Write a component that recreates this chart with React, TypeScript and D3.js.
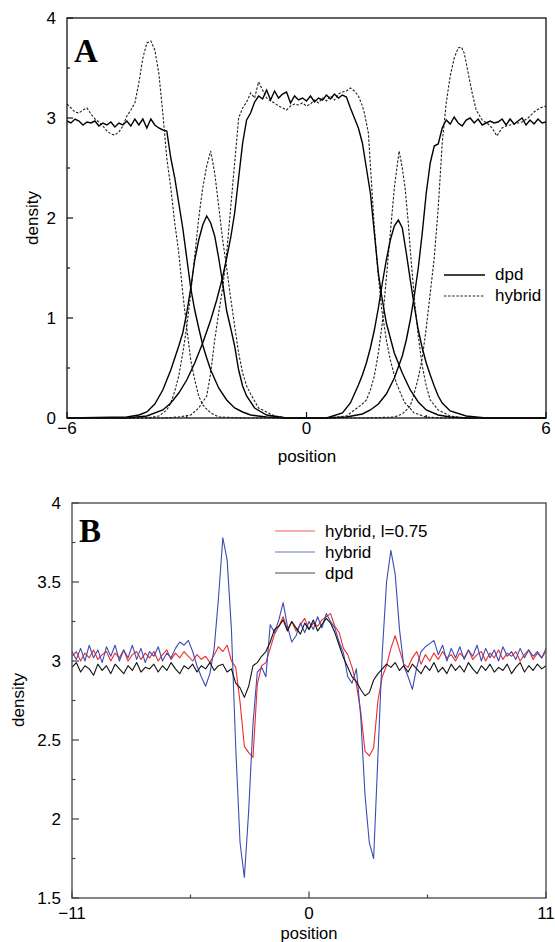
import React from 'react';
import * as d3 from 'd3';

type P = [number, number];

// ---------- Panel A: density profiles (position, density) ----------
const dpdOuterA: P[] = [
  [-6, 2.97], [-5.9, 2.95], [-5.8, 2.99], [-5.7, 2.97], [-5.6, 2.93], [-5.5, 2.96], [-5.4, 2.95], [-5.3, 2.97],
  [-5.2, 2.92], [-5.1, 2.95], [-5.0, 2.93], [-4.9, 2.96], [-4.8, 2.91], [-4.7, 2.95], [-4.6, 2.93], [-4.5, 2.97],
  [-4.4, 2.92], [-4.3, 2.99], [-4.2, 2.93], [-4.1, 2.99], [-4.0, 2.9], [-3.9, 2.99], [-3.8, 2.93], [-3.7, 2.9],
  [-3.6, 2.88], [-3.5, 2.87], [-3.4, 2.6], [-3.3, 2.4], [-3.2, 2.15], [-3.1, 1.9], [-3.0, 1.6], [-2.9, 1.3],
  [-2.8, 1.08], [-2.7, 0.9], [-2.6, 0.73], [-2.5, 0.6], [-2.4, 0.48], [-2.2, 0.3], [-2.0, 0.18], [-1.8, 0.1],
  [-1.6, 0.06], [-1.4, 0.03], [-1.0, 0.01], [-0.5, 0], [0.5, 0], [1.0, 0.01], [1.4, 0.04], [1.6, 0.08],
  [1.8, 0.14], [2.0, 0.24], [2.2, 0.4], [2.4, 0.62], [2.5, 0.78], [2.6, 0.98], [2.7, 1.22], [2.8, 1.5],
  [2.9, 1.85], [3.0, 2.25], [3.1, 2.55], [3.2, 2.72], [3.3, 2.74], [3.4, 2.9], [3.5, 2.98], [3.6, 2.94],
  [3.7, 3.01], [3.8, 2.95], [3.9, 2.92], [4.0, 2.98], [4.1, 3.0], [4.2, 2.95], [4.3, 2.99], [4.4, 2.93],
  [4.5, 2.95], [4.6, 2.97], [4.7, 2.95], [4.8, 2.96], [4.9, 2.99], [5.0, 2.93], [5.1, 2.99], [5.2, 2.94],
  [5.3, 2.97], [5.4, 3.0], [5.5, 2.93], [5.6, 2.98], [5.7, 2.94], [5.8, 2.99], [5.9, 2.95], [6.0, 2.96],
];

const dpdMiddleA: P[] = [
  [-6, 0], [-4.5, 0], [-4.0, 0.02], [-3.6, 0.08], [-3.4, 0.15], [-3.2, 0.25], [-3.0, 0.38], [-2.8, 0.55],
  [-2.6, 0.75], [-2.4, 0.98], [-2.25, 1.18], [-2.1, 1.41], [-2.0, 1.6], [-1.9, 1.8], [-1.8, 2.05], [-1.7, 2.4],
  [-1.6, 2.75], [-1.5, 2.98], [-1.4, 3.05], [-1.3, 3.16], [-1.2, 3.22], [-1.1, 3.19], [-1.0, 3.28], [-0.9, 3.18],
  [-0.8, 3.27], [-0.7, 3.2], [-0.6, 3.24], [-0.5, 3.26], [-0.4, 3.15], [-0.3, 3.22], [-0.2, 3.18], [-0.1, 3.2],
  [0.0, 3.17], [0.1, 3.22], [0.2, 3.16], [0.3, 3.2], [0.4, 3.18], [0.5, 3.23], [0.6, 3.19], [0.7, 3.24],
  [0.8, 3.2], [0.9, 3.23], [1.0, 3.21], [1.1, 3.1], [1.2, 3.0], [1.3, 2.9], [1.4, 2.75], [1.5, 2.5],
  [1.6, 2.25], [1.7, 1.85], [1.8, 1.45], [1.9, 1.18], [2.0, 0.95], [2.2, 0.65], [2.4, 0.45], [2.6, 0.28],
  [2.8, 0.16], [3.0, 0.08], [3.3, 0.03], [3.6, 0.01], [4.0, 0], [6, 0],
];

const dpdPeakA: P[] = [
  [-6, 0], [-4.5, 0.01], [-4.2, 0.03], [-4.0, 0.06], [-3.8, 0.14], [-3.6, 0.28], [-3.4, 0.48], [-3.2, 0.72],
  [-3.1, 0.85], [-3.0, 1.05], [-2.9, 1.3], [-2.8, 1.58], [-2.7, 1.78], [-2.6, 1.93], [-2.5, 2.02], [-2.4, 1.95],
  [-2.3, 1.82], [-2.2, 1.6], [-2.1, 1.35], [-2.0, 1.07], [-1.9, 0.9], [-1.8, 0.72], [-1.7, 0.48], [-1.6, 0.32],
  [-1.5, 0.22], [-1.3, 0.1], [-1.0, 0.03], [-0.5, 0], [0.5, 0], [0.9, 0.05], [1.1, 0.15], [1.3, 0.33],
  [1.4, 0.43], [1.5, 0.55], [1.6, 0.7], [1.7, 0.88], [1.8, 1.1], [1.9, 1.35], [2.0, 1.58], [2.1, 1.78],
  [2.2, 1.92], [2.3, 1.98], [2.4, 1.9], [2.5, 1.65], [2.6, 1.38], [2.7, 1.12], [2.8, 0.88], [2.9, 0.7],
  [3.0, 0.55], [3.1, 0.43], [3.2, 0.32], [3.3, 0.22], [3.4, 0.15], [3.6, 0.07], [4.0, 0.02], [4.5, 0], [6, 0],
];

const hybOuterA: P[] = [
  [-6, 3.14], [-5.9, 3.1], [-5.8, 3.06], [-5.7, 3.05], [-5.6, 3.08], [-5.5, 3.1], [-5.4, 3.04], [-5.3, 2.99],
  [-5.2, 2.96], [-5.1, 2.92], [-5.0, 2.87], [-4.9, 2.84], [-4.8, 2.83], [-4.7, 2.86], [-4.6, 2.92], [-4.5, 3.02],
  [-4.4, 3.08], [-4.3, 3.15], [-4.2, 3.35], [-4.1, 3.6], [-4.0, 3.75], [-3.9, 3.77], [-3.8, 3.68], [-3.7, 3.45],
  [-3.6, 3.05], [-3.5, 2.6], [-3.4, 2.3], [-3.3, 1.95], [-3.2, 1.65], [-3.1, 1.25], [-3.0, 0.9], [-2.9, 0.58],
  [-2.8, 0.38], [-2.7, 0.22], [-2.6, 0.13], [-2.4, 0.05], [-2.2, 0.01], [-1.5, 0], [1.5, 0], [2.2, 0.01],
  [2.4, 0.04], [2.6, 0.12], [2.7, 0.25], [2.8, 0.4], [2.9, 0.6], [3.0, 0.9], [3.1, 1.25], [3.2, 1.6],
  [3.3, 2.1], [3.4, 2.75], [3.5, 3.15], [3.6, 3.42], [3.7, 3.6], [3.8, 3.7], [3.88, 3.71], [3.95, 3.65],
  [4.05, 3.45], [4.15, 3.25], [4.25, 3.08], [4.4, 2.98], [4.55, 2.94], [4.65, 2.9], [4.77, 2.82], [4.9, 2.9],
  [5.0, 2.92], [5.2, 2.94], [5.4, 2.96], [5.55, 3.0], [5.7, 3.06], [5.85, 3.1], [6.0, 3.12],
];

const hybMiddleA: P[] = [
  [-6, 0], [-3.6, 0], [-3.2, 0.01], [-2.9, 0.03], [-2.7, 0.1], [-2.5, 0.22], [-2.4, 0.45], [-2.3, 0.78],
  [-2.2, 1.05], [-2.1, 1.3], [-2.0, 1.65], [-1.9, 2.1], [-1.8, 2.55], [-1.7, 3.0], [-1.6, 3.1], [-1.5, 3.16],
  [-1.4, 3.25], [-1.3, 3.2], [-1.2, 3.36], [-1.1, 3.28], [-1.0, 3.2], [-0.9, 3.17], [-0.8, 3.15], [-0.7, 3.12],
  [-0.6, 3.1], [-0.5, 3.08], [-0.4, 3.12], [-0.3, 3.14], [-0.2, 3.13], [-0.1, 3.15], [0.0, 3.12], [0.1, 3.14],
  [0.2, 3.18], [0.3, 3.15], [0.4, 3.2], [0.5, 3.17], [0.6, 3.22], [0.7, 3.18], [0.8, 3.24], [0.9, 3.26],
  [1.0, 3.27], [1.1, 3.3], [1.2, 3.27], [1.3, 3.22], [1.4, 3.12], [1.45, 3.05], [1.55, 2.85], [1.62, 2.4],
  [1.7, 1.9], [1.78, 1.5], [1.88, 1.1], [2.0, 0.78], [2.1, 0.58], [2.25, 0.35], [2.45, 0.16], [2.7, 0.05],
  [3.0, 0.01], [3.4, 0], [6, 0],
];

const hybPeakA: P[] = [
  [-6, 0], [-4.0, 0], [-3.7, 0.02], [-3.5, 0.08], [-3.4, 0.15], [-3.3, 0.27], [-3.2, 0.42], [-3.1, 0.65],
  [-3.0, 0.91], [-2.9, 1.25], [-2.8, 1.62], [-2.7, 2.0], [-2.6, 2.3], [-2.5, 2.52], [-2.4, 2.67], [-2.3, 2.45],
  [-2.2, 2.12], [-2.1, 1.78], [-2.0, 1.5], [-1.9, 1.2], [-1.8, 0.92], [-1.7, 0.65], [-1.6, 0.45], [-1.5, 0.32],
  [-1.4, 0.24], [-1.2, 0.1], [-1.0, 0.06], [-0.8, 0.02], [-0.5, 0], [0.5, 0], [1.0, 0.02], [1.2, 0.08],
  [1.4, 0.14], [1.5, 0.18], [1.6, 0.28], [1.7, 0.42], [1.8, 0.65], [1.9, 0.95], [2.0, 1.4], [2.1, 1.85],
  [2.2, 2.3], [2.32, 2.67], [2.4, 2.5], [2.47, 2.3], [2.55, 1.95], [2.6, 1.68], [2.7, 1.2], [2.8, 0.82],
  [2.9, 0.52], [3.0, 0.32], [3.1, 0.18], [3.3, 0.08], [3.6, 0.02], [4.0, 0], [6, 0],
];

const xTicksA = [-6, 0, 6];
const xMinorA = [-3, 3];
const yTicksA = [0, 1, 2, 3, 4];
const yMinorA = [0.5, 1.5, 2.5, 3.5];

// ---------- Panel B: positions sampled every 0.2 from -11 to 11 ----------
const positionsB = d3.range(0, 111).map((i) => -11 + i * 0.2);

const hybridL075B = [
  3.03, 3.06, 3.0, 3.05, 3.02, 3.07, 3.01, 3.04, 3.06, 3.0,
  3.05, 3.02, 3.07, 3.0, 3.04, 3.06, 3.01, 3.05, 3.02, 3.06,
  3.0, 3.04, 3.07, 3.01, 3.05, 3.02, 3.06, 3.03, 3.0, 3.04,
  3.01, 3.03, 2.99, 3.04, 3.09, 3.06, 3.1, 3.0, 2.96, 2.74,
  2.46, 2.42, 2.39, 2.85, 2.97, 2.99, 3.08, 3.17, 3.22, 3.28,
  3.2, 3.25, 3.19, 3.23, 3.27, 3.2, 3.24, 3.22, 3.26, 3.28,
  3.3, 3.22, 3.18, 3.08, 3.04, 2.96, 2.85, 2.68, 2.43, 2.4,
  2.45, 2.75, 2.9, 2.97, 3.08, 3.16, 3.07, 2.98, 2.96, 3.02,
  3.06, 2.98, 3.04, 3.0, 3.05, 3.01, 3.06, 3.02, 3.04, 3.0,
  3.05, 3.02, 3.07, 3.01, 3.04, 3.06, 3.0, 3.05, 3.02, 3.07,
  3.01, 3.05, 3.03, 3.06, 3.0, 3.04, 3.07, 3.01, 3.05, 3.02, 3.06,
];

const hybridB = [
  3.06, 3.01, 3.08, 3.0, 3.1, 3.02, 3.07, 2.99, 3.09, 3.03,
  3.1, 3.0, 3.07, 3.02, 3.1, 3.01, 3.08, 2.99, 3.06, 3.03,
  3.09, 3.0, 3.05, 3.02, 3.08, 3.12, 3.1, 3.13, 3.06, 2.97,
  2.9, 2.84, 2.92, 3.08, 3.4, 3.78, 3.64, 3.2, 2.45, 1.85,
  1.63, 2.05, 2.6, 2.93, 2.96, 2.9, 3.23, 3.18, 3.26, 3.37,
  3.22, 3.12, 3.16, 3.24, 3.18, 3.25, 3.2, 3.28, 3.21, 3.3,
  3.25, 3.21, 3.12, 3.05, 2.9, 2.86, 2.95, 2.65, 2.15, 1.85,
  1.75, 2.4, 3.05, 3.5, 3.7, 3.55, 3.2, 2.97, 2.9, 2.82,
  2.96, 3.06, 3.09, 3.11, 3.13, 3.04, 3.1, 3.0, 3.08, 3.02,
  3.09, 3.01, 3.07, 3.03, 3.1, 3.0, 3.08, 3.02, 3.07, 3.0,
  3.09, 3.03, 3.06, 3.01, 3.08, 3.02, 3.07, 3.03, 3.06, 3.02, 3.08,
];

const dpdB = [
  2.96, 2.99, 2.93, 2.97, 2.95, 2.91, 2.98, 2.94, 2.97, 2.92,
  2.98, 2.95, 2.92, 2.97, 2.94, 2.99, 2.93, 2.96, 2.95, 2.98,
  2.93, 2.97, 2.94, 2.99, 2.95, 2.92, 2.97, 2.95, 2.98, 2.93,
  2.97, 2.95, 2.99, 2.94, 2.97, 2.98, 2.93, 2.95, 2.86, 2.83,
  2.77, 2.84, 2.97, 2.99, 3.03, 3.06, 3.12, 3.2, 3.22, 3.26,
  3.19, 3.25, 3.21, 3.17, 3.24, 3.2, 3.26, 3.19, 3.23, 3.27,
  3.24, 3.18, 3.1, 3.02, 2.96, 2.9, 2.87, 2.82, 2.78, 2.8,
  2.88, 2.92, 2.95, 2.98, 2.96, 2.99, 2.94, 2.97, 2.93, 2.98,
  2.95, 2.92, 2.97, 2.94, 2.99, 2.93, 2.96, 2.92, 2.98, 2.94,
  2.97, 2.93, 2.99, 2.95, 2.92, 2.97, 2.94, 2.98, 2.93, 2.96,
  2.94, 2.98, 2.92, 2.96, 2.99, 2.93, 2.97, 2.94, 2.98, 2.95, 2.97,
];

const xTicksB = [-11, 0, 11];
const xMinorB = [-5.5, 5.5];
const yTicksB = [1.5, 2, 2.5, 3, 3.5, 4];
const yMinorB = [1.75, 2.25, 2.75, 3.25, 3.75];

const seriesB = [
  { name: 'hybrid, l=0.75', values: hybridL075B, color: '#ee2b2b' },
  { name: 'hybrid', values: hybridB, color: '#3b4cb2' },
  { name: 'dpd', values: dpdB, color: '#111111' },
];

const FONT = '"Liberation Sans", Arial, Helvetica, sans-serif';
const SERIF = '"Liberation Serif", "Times New Roman", serif';
const fmt = (v: number) => (v < 0 ? '\u2212' + Math.abs(v) : String(v));

export default function App() {
  // Panel A scales
  const xA = d3.scaleLinear().domain([-6, 6]).range([67, 546]);
  const yA = d3.scaleLinear().domain([0, 4]).range([418, 18]);
  const lineA = d3.line<P>().x((d) => xA(d[0])).y((d) => yA(d[1]));

  // Panel B scales
  const xB = d3.scaleLinear().domain([-11, 11]).range([72, 546]);
  const yB = d3.scaleLinear().domain([1.5, 4]).range([898, 503]);
  const lineB = d3
    .line<number>()
    .x((_, i) => xB(positionsB[i]))
    .y((d) => yB(d));

  const solidA = [dpdOuterA, dpdMiddleA, dpdPeakA];
  const dashedA = [hybOuterA, hybMiddleA, hybPeakA];

  const frameA = '#111';
  const frameB = '#444';

  return (
    <svg
      width={555}
      height={942}
      style={{ position: 'absolute', left: 0, top: 0, background: '#fff' }}
      fontFamily={FONT}
    >
      {/* ================= Panel A ================= */}
      <g>
        {dashedA.map((s, i) => (
          <path key={'hA' + i} d={lineA(s) || ''} fill="none" stroke="#222" strokeWidth={1.1} strokeDasharray="2.5,1.6" />
        ))}
        {solidA.map((s, i) => (
          <path key={'dA' + i} d={lineA(s) || ''} fill="none" stroke="#000" strokeWidth={1.4} />
        ))}
        <rect x={67} y={18} width={479} height={400} fill="none" stroke={frameA} strokeWidth={1.3} />
        {yTicksA.map((t) => (
          <g key={'yta' + t}>
            <line x1={67} x2={73} y1={yA(t)} y2={yA(t)} stroke={frameA} strokeWidth={1.2} />
            <text x={56} y={yA(t)} dy="0.36em" textAnchor="end" fontSize={17}>{fmt(t)}</text>
          </g>
        ))}
        {yMinorA.map((t) => (
          <line key={'yma' + t} x1={67} x2={70} y1={yA(t)} y2={yA(t)} stroke={frameA} strokeWidth={1.2} />
        ))}
        {xTicksA.map((t) => (
          <g key={'xta' + t}>
            <line x1={xA(t)} x2={xA(t)} y1={418} y2={412} stroke={frameA} strokeWidth={1.2} />
            <text x={xA(t)} y={434} textAnchor="middle" fontSize={17}>{fmt(t)}</text>
          </g>
        ))}
        {xMinorA.map((t) => (
          <line key={'xma' + t} x1={xA(t)} x2={xA(t)} y1={418} y2={415} stroke={frameA} strokeWidth={1.2} />
        ))}
        <text x={307} y={462} textAnchor="middle" fontSize={17}>position</text>
        <text transform="translate(38,218) rotate(-90)" textAnchor="middle" fontSize={17}>density</text>
        <text x={74} y={62} fontFamily={SERIF} fontWeight="bold" fontSize={33}>A</text>
        {/* legend A */}
        <line x1={444} x2={485} y1={275} y2={275} stroke="#000" strokeWidth={1.4} />
        <text x={495} y={280} fontSize={17}>dpd</text>
        <line x1={444} x2={485} y1={296} y2={296} stroke="#222" strokeWidth={1.1} strokeDasharray="2.5,1.6" />
        <text x={495} y={301} fontSize={17}>hybrid</text>
      </g>

      {/* ================= Panel B ================= */}
      <g>
        {seriesB.map((s) => (
          <path key={s.name} d={lineB(s.values) || ''} fill="none" stroke={s.color} strokeWidth={1.1} strokeLinejoin="round" />
        ))}
        <rect x={72} y={503} width={474} height={395} fill="none" stroke={frameB} strokeWidth={1.3} />
        {yTicksB.map((t) => (
          <g key={'ytb' + t}>
            <line x1={72} x2={79} y1={yB(t)} y2={yB(t)} stroke={frameB} strokeWidth={1.2} />
            <text x={61} y={yB(t)} dy="0.36em" textAnchor="end" fontSize={17}>{fmt(t)}</text>
          </g>
        ))}
        {yMinorB.map((t) => (
          <line key={'ymb' + t} x1={72} x2={75.5} y1={yB(t)} y2={yB(t)} stroke={frameB} strokeWidth={1.2} />
        ))}
        {xTicksB.map((t) => (
          <g key={'xtb' + t}>
            <line x1={xB(t)} x2={xB(t)} y1={898} y2={891.5} stroke={frameB} strokeWidth={1.2} />
            <text x={xB(t)} y={919} textAnchor="middle" fontSize={17}>{fmt(t)}</text>
          </g>
        ))}
        {xMinorB.map((t) => (
          <line key={'xmb' + t} x1={xB(t)} x2={xB(t)} y1={898} y2={894.5} stroke={frameB} strokeWidth={1.2} />
        ))}
        <text x={309} y={939} textAnchor="middle" fontSize={16.5}>position</text>
        <text transform="translate(24,700) rotate(-90)" textAnchor="middle" fontSize={17}>density</text>
        <text x={79} y={542} fontFamily={SERIF} fontWeight="bold" fontSize={33}>B</text>
        {/* legend B */}
        {seriesB.map((s, i) => (
          <g key={'lg' + s.name}>
            <line x1={275} x2={315} y1={531 + i * 21} y2={531 + i * 21} stroke={s.color} strokeWidth={1.1} opacity={0.75} />
            <text x={325} y={537 + i * 21} fontSize={17}>{s.name}</text>
          </g>
        ))}
      </g>
    </svg>
  );
}
